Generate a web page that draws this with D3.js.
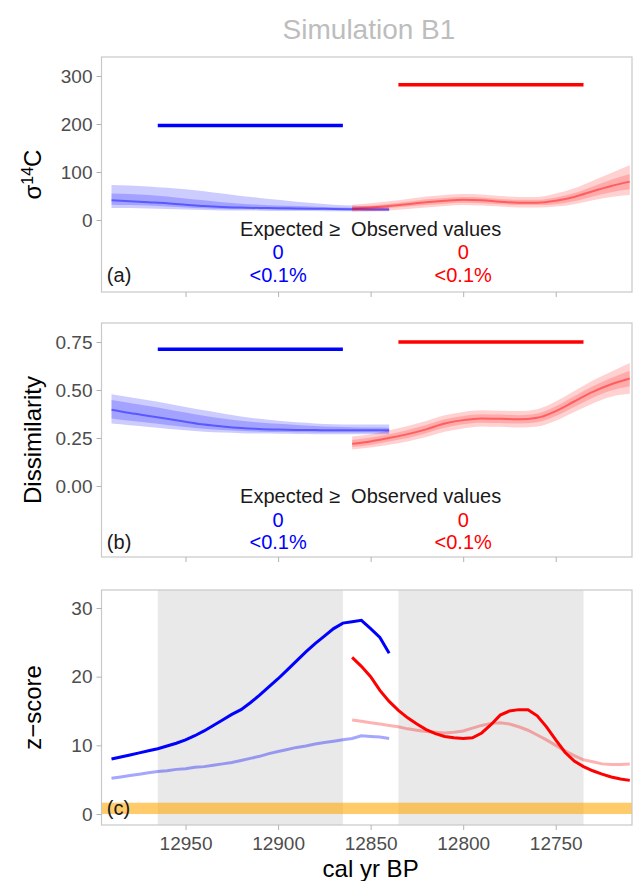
<!DOCTYPE html>
<html><head><meta charset="utf-8">
<script src="https://cdn.jsdelivr.net/npm/d3@7"></script>
<style>body{margin:0;background:#fff}svg{display:block;font-family:"Liberation Sans",Arial,sans-serif}</style>
</head><body><svg id="chart" width="635" height="881"></svg>
<script>
// ---- data ----
const xTicks = [12950, 12900, 12850, 12800, 12750];
const blueWindow = [12965, 12865];
const redWindow = [12835, 12735];
const yearsBlueSmooth = [12990,12980,12970,12960,12950,12940,12930,12920,12910,12900,12890,12880,12870,12860,12850,12840];
const yearsRedSmooth  = [12860,12850,12840,12830,12820,12810,12800,12790,12780,12770,12760,12750,12740,12730,12720,12710];

// panel (a) sigma 14C
const sigmaTicks = [0, 100, 200, 300];
const sigmaObsBlue = 197, sigmaObsRed = 282;
const sigBlueMed = [41,39,37,35,32,29,27,26,25,24.5,24,23.5,23,22.5,22,22];
const sigBlueOutHi = [73,72,70,67,64,60,55,50,46,42,38,35,32,30,28,27];
const sigBlueOutLo = [25,25,24,23,22,21,20,20,19.5,19,19,18.5,18,18,18,18];
const sigBlueInHi = [55,54,52,49,45,41,37,34,32,30,29,27.5,26.5,25.5,25,24.5];
const sigBlueInLo = [32,31,30,28,26,24.5,23,22.5,22,21.5,21,21,20.5,20,20,20];
const sigRedMed = [24,26,29,33,37,40,42,41,38,36,36,40,48,60,71,80];
const sigRedOutHi = [32,35,39,44,49,52,54,53,50,48,48,55,66,82,98,114];
const sigRedOutLo = [17,18,20,23,26,29,31,30,28,26,26,28,33,41,48,52];
const sigRedInHi = [28,30,34,38,43,46,48,47,44,42,42,47,56,70,84,96];
const sigRedInLo = [20,22,25,28,31,34,36,35,33,31,31,33,39,49,58,64];

// panel (b) dissimilarity
const dissTicks = [0, 0.25, 0.5, 0.75];
const dissObsBlue = 0.712, dissObsRed = 0.75;
const disBlueMed = [.397,.38,.365,.35,.335,.32,.31,.302,.297,.294,.292,.291,.29,.29,.29,.29];
const disBlueOutHi = [.478,.462,.447,.43,.412,.394,.378,.362,.35,.34,.332,.326,.322,.32,.32,.32];
const disBlueOutLo = [.325,.316,.307,.298,.29,.283,.278,.275,.273,.272,.271,.27,.27,.27,.27,.27];
const disBlueInHi = [.448,.432,.417,.4,.383,.366,.352,.34,.331,.324,.318,.313,.309,.306,.304,.303];
const disBlueInLo = [.352,.34,.329,.318,.307,.298,.291,.286,.283,.281,.28,.279,.278,.278,.278,.278];
const disRedMed = [.22,.232,.25,.27,.295,.325,.343,.352,.35,.347,.355,.39,.44,.49,.53,.56];
const disRedOutHi = [.258,.27,.29,.312,.338,.368,.385,.394,.392,.39,.4,.44,.495,.55,.595,.64];
const disRedOutLo = [.19,.2,.215,.232,.255,.283,.3,.31,.308,.305,.31,.34,.385,.43,.465,.48];
const disRedInHi = [.24,.252,.27,.292,.318,.348,.365,.374,.372,.369,.378,.415,.468,.52,.563,.6];
const disRedInLo = [.203,.214,.232,.25,.275,.303,.322,.33,.328,.325,.332,.365,.412,.46,.498,.52];

// panel (c) z-scores
const zTicks = [0, 10, 20, 30];
const zCrit = 1.645;
const yearsBlueZ = [12990,12985,12980,12975,12970,12965,12960,12955,12950,12945,12940,12935,12930,12925,12920,12915,12910,12905,12900,12895,12890,12885,12880,12875,12870,12865,12860,12855,12850,12845,12840];
const zBlue = [8.0,8.3,8.6,8.9,9.2,9.5,9.9,10.3,10.8,11.4,12.1,12.9,13.7,14.5,15.2,16.2,17.3,18.5,19.7,21.0,22.3,23.6,24.8,25.9,27.0,27.8,28.0,28.2,27.0,25.7,23.4];
const zBlueLight = [5.2,5.4,5.6,5.8,6.0,6.2,6.3,6.5,6.6,6.8,6.9,7.1,7.3,7.5,7.8,8.1,8.4,8.8,9.1,9.4,9.7,9.9,10.2,10.4,10.6,10.8,11.0,11.4,11.3,11.2,11.0];
const yearsRedZ = [12860,12855,12850,12845,12840,12835,12830,12825,12820,12815,12810,12805,12800,12795,12790,12785,12780,12775,12770,12765,12760,12755,12750,12745,12740,12735,12730,12725,12720,12715,12710];
const zRed = [22.8,21.5,20.0,18.0,16.4,15.1,14.0,13.1,12.3,11.7,11.3,11.1,11.0,11.1,11.8,13.0,14.4,15.0,15.2,15.2,14.3,12.7,10.8,9.0,7.7,6.9,6.3,5.8,5.4,5.1,4.9];
const zRedLight = [13.7,13.5,13.3,13.1,12.9,12.7,12.4,12.2,12.0,11.9,11.8,11.9,12.1,12.5,12.9,13.2,13.3,13.1,12.7,12.2,11.5,10.8,10.0,9.2,8.5,7.9,7.6,7.3,7.2,7.2,7.3];

// ---- drawing ----
const svg = d3.select("#chart");
const L = 101.5, R = 632;
const x = d3.scaleLinear().domain([12995.4, 12708.8]).range([L, R]);
const panels = [
  {top: 57, bot: 292, dom: [-150, 339.6]},
  {top: 323, bot: 557, dom: [-0.37, 0.849]},
  {top: 590, bot: 825, dom: [-1.6, 32.62]}
];
panels.forEach(p => p.y = d3.scaleLinear().domain(p.dom).range([p.bot, p.top]));

const BLUE = "#0000ff", RED = "#ff0000";

svg.append("text").attr("x", 369).attr("y", 39).attr("text-anchor", "middle")
  .attr("font-size", 28).attr("fill", "#bdbdbd").text("Simulation B1");

function frame(p) {
  svg.append("rect").attr("x", L).attr("y", p.top).attr("width", R - L).attr("height", p.bot - p.top)
    .attr("fill", "#fff");
}
function border(p, ticks, fmt, showX) {
  const g = svg.append("g");
  g.append("rect").attr("x", L).attr("y", p.top).attr("width", R - L).attr("height", p.bot - p.top)
    .attr("fill", "none").attr("stroke", "#c8c8c8").attr("stroke-width", 1.2);
  const ya = g.append("g").attr("transform", `translate(${L},0)`)
    .call(d3.axisLeft(p.y).tickValues(ticks).tickFormat(fmt).tickSize(5).tickPadding(4));
  ya.select(".domain").remove();
  ya.selectAll("line").attr("stroke", "#b3b3b3");
  ya.selectAll("text").attr("font-size", 19).attr("fill", "#4d4d4d").attr("font-family", "Liberation Sans, Arial, sans-serif");
  const xa = g.append("g").attr("transform", `translate(0,${p.bot})`)
    .call(d3.axisBottom(x).tickValues(xTicks).tickSize(5).tickPadding(7).tickFormat(showX ? d3.format("d") : () => ""));
  xa.select(".domain").remove();
  xa.selectAll("line").attr("stroke", "#b3b3b3");
  xa.selectAll("text").attr("font-size", 19).attr("fill", "#4d4d4d").attr("font-family", "Liberation Sans, Arial, sans-serif");
}

function bands(p, years, outLo, outHi, inLo, inHi, med, col, aOut, aIn, aMed) {
  const g = svg.append("g");
  const area = (lo, hi) => d3.area().x((d, i) => x(years[i])).y0((d, i) => p.y(lo[i])).y1((d, i) => p.y(hi[i])).curve(d3.curveMonotoneX)(years);
  g.append("path").attr("d", area(outLo, outHi)).attr("fill", col).attr("fill-opacity", aOut);
  g.append("path").attr("d", area(inLo, inHi)).attr("fill", col).attr("fill-opacity", aIn);
  g.append("path").attr("d", d3.line().x((d, i) => x(years[i])).y((d, i) => p.y(med[i])).curve(d3.curveMonotoneX)(years))
    .attr("fill", "none").attr("stroke", col).attr("stroke-opacity", aMed).attr("stroke-width", 2);
}
function hline(p, win, v, col) {
  svg.append("line").attr("x1", x(win[0])).attr("x2", x(win[1])).attr("y1", p.y(v)).attr("y2", p.y(v))
    .attr("stroke", col).attr("stroke-width", 3.5);
}
function annot(p, vExp, vN, vPct, label) {
  const t = (xx, yy, s, col, anchor) => svg.append("text").attr("x", xx).attr("y", p.y(yy))
    .attr("dy", "0.36em").attr("text-anchor", anchor || "middle").attr("font-size", 20).attr("fill", col)
    .style("white-space", "pre").text(s);
  t(x(12850), vExp, "Expected \u2265  Observed values", "#1a1a1a");
  t(x(12900), vN, "0", BLUE);
  t(x(12800), vN, "0", RED);
  t(x(12900), vPct, "<0.1%", BLUE);
  t(x(12800), vPct, "<0.1%", RED);
  t(x(12992.5), vPct, label, "#1a1a1a", "start");
}

// Panel a
const pa = panels[0];
frame(pa);
bands(pa, yearsBlueSmooth, sigBlueOutLo, sigBlueOutHi, sigBlueInLo, sigBlueInHi, sigBlueMed, BLUE, 0.2, 0.2, 0.45);
bands(pa, yearsRedSmooth, sigRedOutLo, sigRedOutHi, sigRedInLo, sigRedInHi, sigRedMed, RED, 0.18, 0.18, 0.45);
hline(pa, blueWindow, sigmaObsBlue, BLUE);
hline(pa, redWindow, sigmaObsRed, RED);
annot(pa, -19, -67, -115, "(a)");
border(pa, sigmaTicks, d3.format("d"), false);

// Panel b
const pb = panels[1];
frame(pb);
bands(pb, yearsRedSmooth, disRedOutLo, disRedOutHi, disRedInLo, disRedInHi, disRedMed, RED, 0.18, 0.18, 0.45);
bands(pb, yearsBlueSmooth, disBlueOutLo, disBlueOutHi, disBlueInLo, disBlueInHi, disBlueMed, BLUE, 0.2, 0.2, 0.45);
hline(pb, blueWindow, dissObsBlue, BLUE);
hline(pb, redWindow, dissObsRed, RED);
annot(pb, -0.052, -0.177, -0.292, "(b)");
border(pb, dissTicks, d3.format(".2f"), false);

// Panel c
const pc = panels[2];
frame(pc);
[blueWindow, redWindow].forEach(w => {
  svg.append("rect").attr("x", x(w[0])).attr("width", x(w[1]) - x(w[0]))
    .attr("y", pc.top).attr("height", pc.bot - pc.top).attr("fill", "#e9e9e9");
});
svg.append("rect").attr("x", L).attr("width", R - L).attr("y", pc.y(zCrit)).attr("height", pc.y(0) - pc.y(zCrit))
  .attr("fill", "#ffa500").attr("fill-opacity", 0.58);
const zline = (years, vals) => d3.line().x((d, i) => x(years[i])).y((d, i) => pc.y(vals[i]))(years);
svg.append("path").attr("d", zline(yearsBlueZ, zBlueLight)).attr("fill", "none").attr("stroke", BLUE).attr("stroke-opacity", 0.35).attr("stroke-width", 3);
svg.append("path").attr("d", zline(yearsRedZ, zRedLight)).attr("fill", "none").attr("stroke", RED).attr("stroke-opacity", 0.3).attr("stroke-width", 3);
svg.append("path").attr("d", zline(yearsBlueZ, zBlue)).attr("fill", "none").attr("stroke", BLUE).attr("stroke-width", 3);
svg.append("path").attr("d", zline(yearsRedZ, zRed)).attr("fill", "none").attr("stroke", RED).attr("stroke-width", 3);
svg.append("text").attr("x", x(12992.5)).attr("y", pc.y(0.85)).attr("dy", "0.36em").attr("font-size", 20).attr("fill", "#1a1a1a").text("(c)");
border(pc, zTicks, d3.format("d"), true);

// axis titles
const ytitle = (p, build) => {
  const t = svg.append("text").attr("transform", `translate(41,${(p.top + p.bot) / 2}) rotate(-90)`)
    .attr("text-anchor", "middle").attr("font-size", 24).attr("fill", "#000");
  build(t);
};
ytitle(pa, t => { t.append("tspan").text("\u03c3"); t.append("tspan").attr("baseline-shift", "super").attr("font-size", 16).text("14"); t.append("tspan").text("C"); });
ytitle(pb, t => t.text("Dissimilarity"));
ytitle(pc, t => t.text("z\u2212score"));
svg.append("text").attr("x", x(12850)).attr("y", 877).attr("text-anchor", "middle").attr("font-size", 24).attr("fill", "#000").text("cal yr BP");
</script></body></html>
